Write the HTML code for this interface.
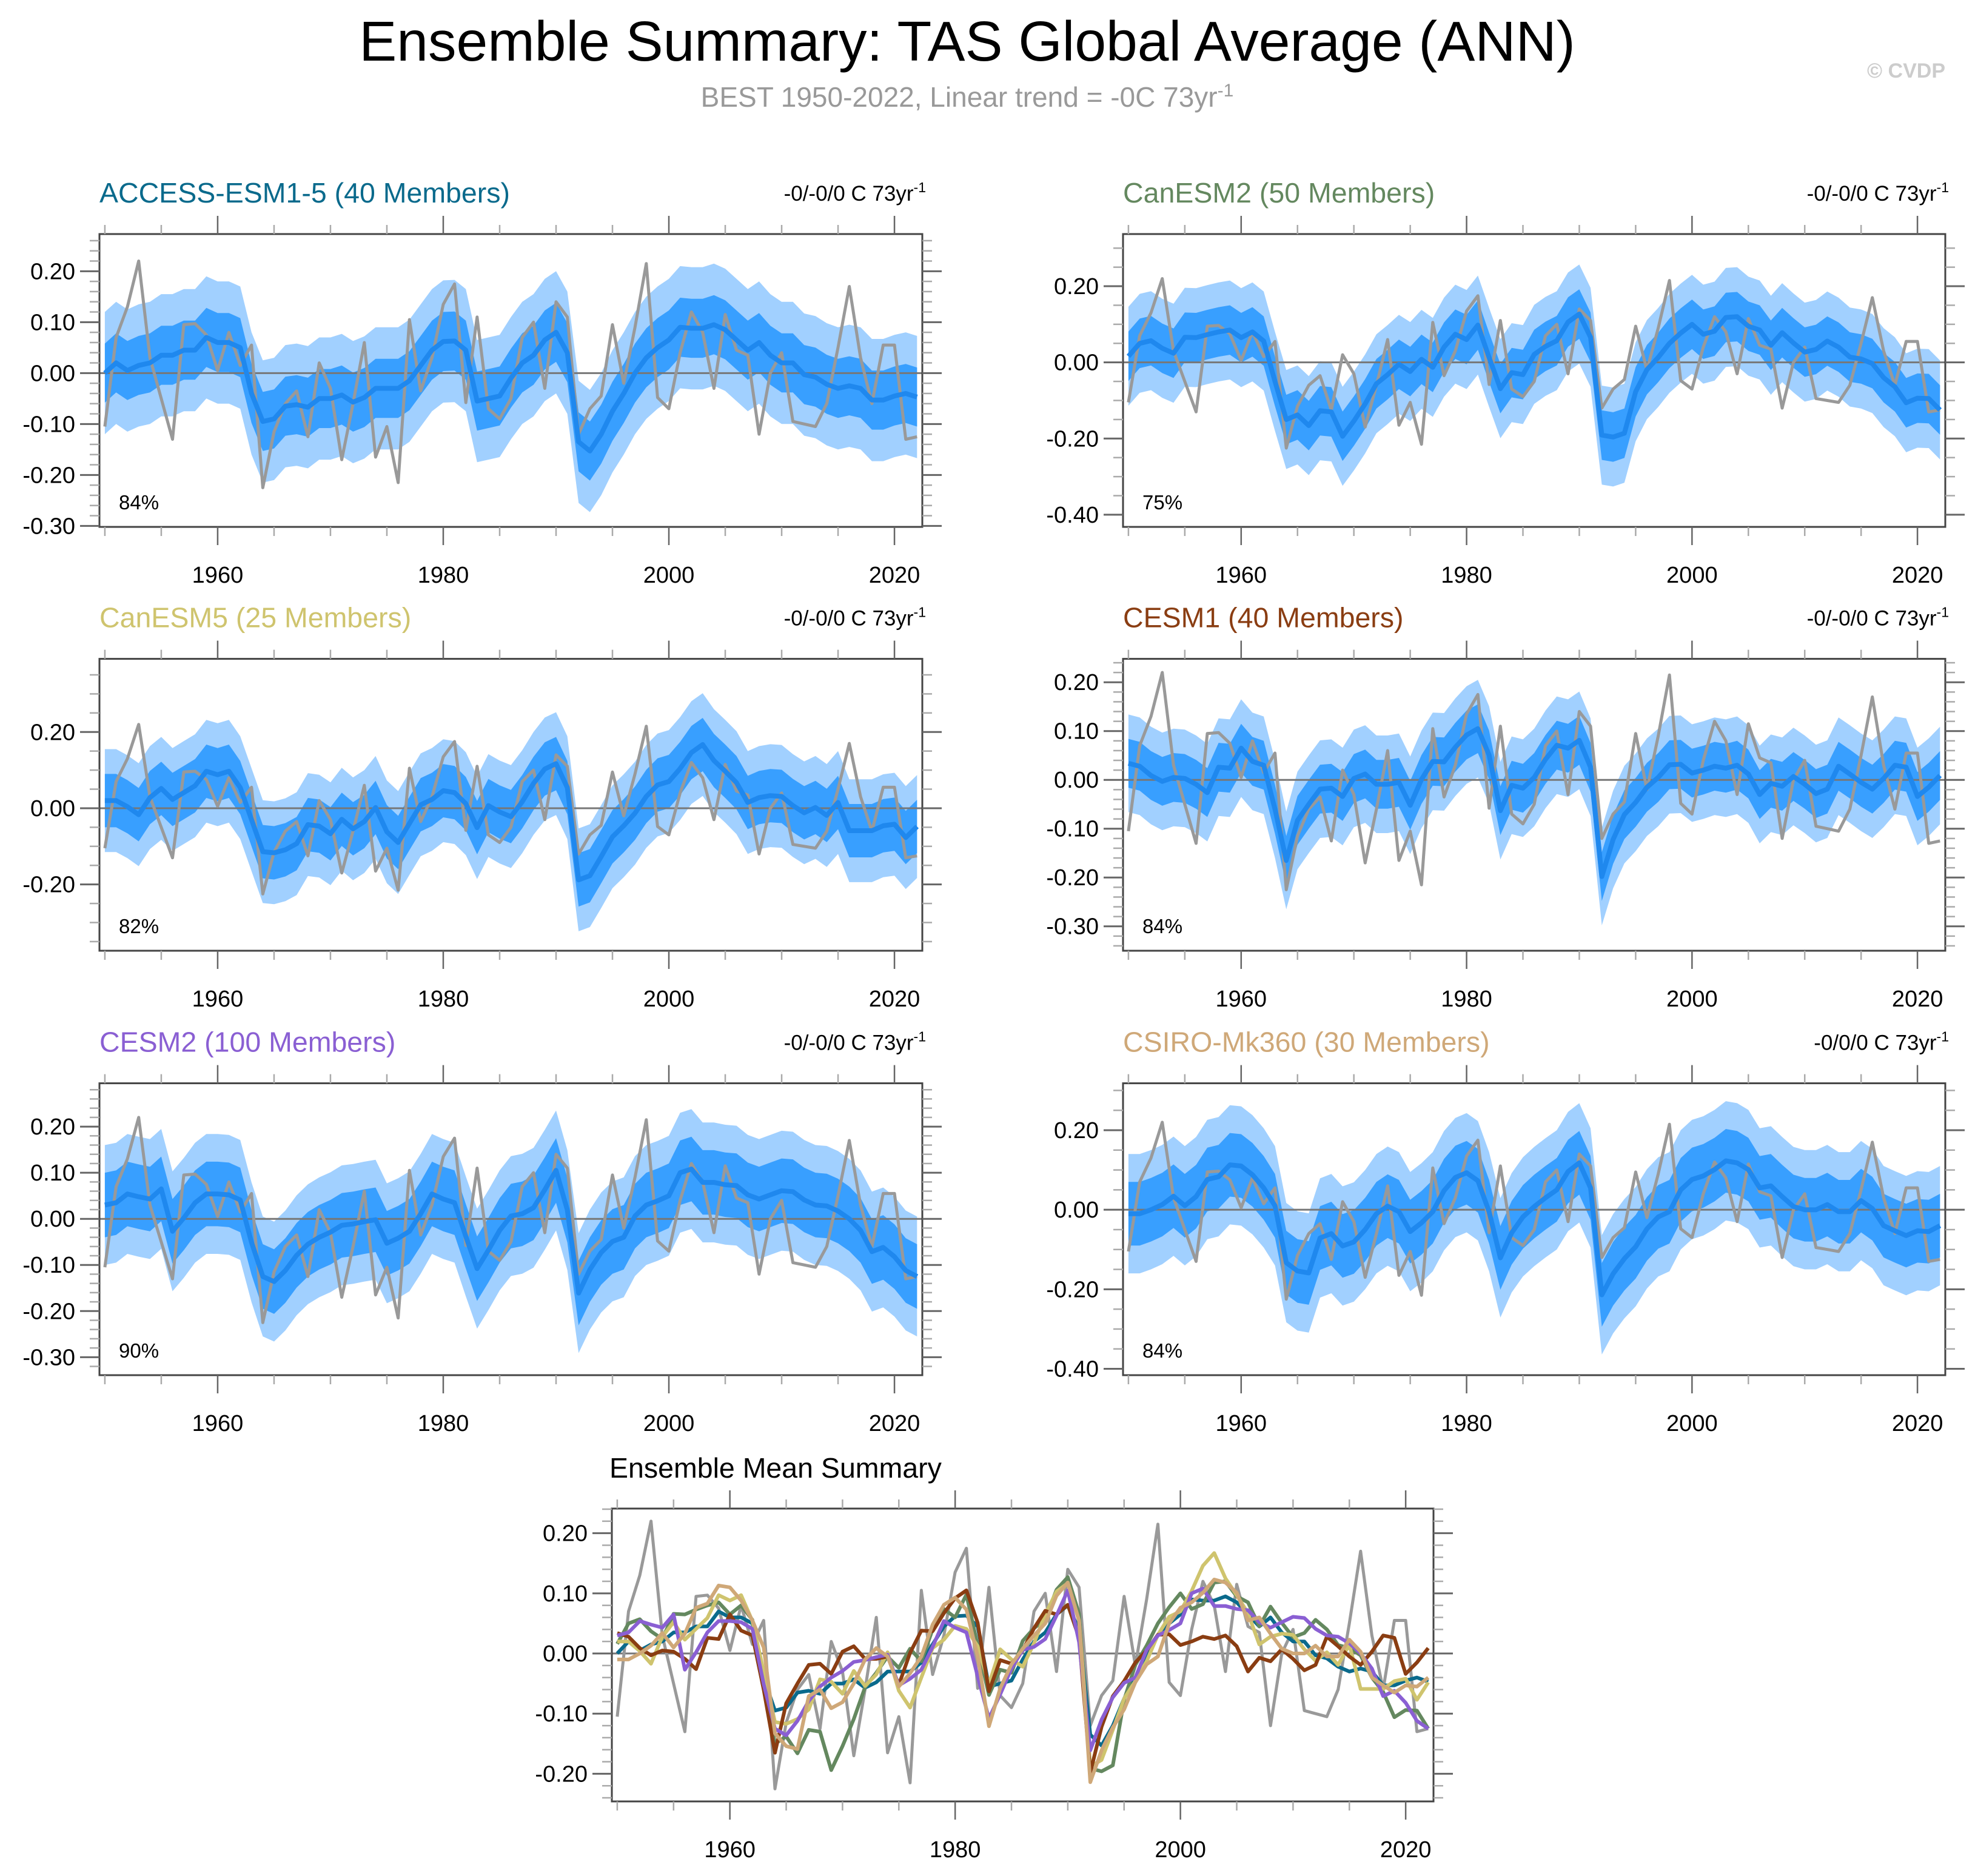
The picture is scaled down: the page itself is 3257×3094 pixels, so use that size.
<!DOCTYPE html>
<html><head><meta charset="utf-8"><title>Ensemble Summary</title>
<style>
html,body{margin:0;padding:0;background:#fff;}
svg{display:block;font-family:"Liberation Sans",Arial,sans-serif;}
</style></head>
<body>
<svg id="chart" xmlns="http://www.w3.org/2000/svg" width="3257" height="3094" viewBox="0 0 3257 3094">
<rect x="0" y="0" width="3257" height="3094" fill="#fff"/>
<text x="1595" y="100" font-size="93" text-anchor="middle" fill="#000">Ensemble Summary: TAS Global Average (ANN)</text>
<text x="1595" y="176" font-size="46" text-anchor="middle" fill="#999">BEST 1950-2022, Linear trend = -0C 73yr<tspan dy="-17" font-size="30">-1</tspan></text>
<text x="3208" y="128" font-size="34" font-weight="bold" text-anchor="end" fill="#ccc">© CVDP</text>
<g id="plots"></g>
</svg>
<script>
const years = [];
for (let y = 1950; y <= 2022; y++) years.push(y);

const obsBEST = [-0.105,0.07,0.13,0.22,0.03,-0.05,-0.13,0.095,0.097,0.075,0.005,0.08,0.015,0.055,-0.225,-0.115,-0.06,-0.035,-0.125,0.02,-0.03,-0.17,-0.06,0.06,-0.165,-0.105,-0.215,0.105,-0.035,0.03,0.135,0.175,-0.058,0.11,-0.07,-0.09,-0.05,0.07,0.1,-0.03,0.14,0.11,-0.12,-0.07,-0.045,0.095,-0.02,0.09,0.215,-0.048,-0.07,0.04,0.12,0.08,-0.03,0.115,0.045,0.035,-0.12,0.0,0.04,-0.095,-0.1,-0.105,-0.06,0.05,0.17,0.03,-0.06,0.055,0.055,-0.13,-0.125];

const meanACCESS = [0.0,0.02,0.005,0.015,0.02,0.035,0.035,0.045,0.045,0.07,0.06,0.06,0.05,-0.04,-0.095,-0.09,-0.065,-0.062,-0.067,-0.05,-0.05,-0.043,-0.057,-0.048,-0.03,-0.03,-0.03,-0.015,0.015,0.045,0.062,0.063,0.045,-0.055,-0.05,-0.045,-0.01,0.02,0.035,0.065,0.08,0.04,-0.135,-0.153,-0.12,-0.075,-0.04,0.0,0.03,0.05,0.065,0.09,0.088,0.088,0.095,0.085,0.065,0.045,0.06,0.035,0.02,0.02,-0.003,-0.008,-0.022,-0.03,-0.025,-0.03,-0.053,-0.053,-0.045,-0.04,-0.047];
const meanCanESM2 = [0.016,0.05,0.057,0.037,0.024,0.066,0.065,0.073,0.08,0.085,0.065,0.08,0.056,-0.05,-0.15,-0.138,-0.166,-0.127,-0.13,-0.194,-0.154,-0.109,-0.056,-0.032,-0.005,-0.024,0.008,-0.013,0.04,0.074,0.06,0.098,0.013,-0.069,-0.027,-0.032,0.021,0.042,0.057,0.106,0.127,0.066,-0.191,-0.196,-0.186,-0.077,-0.019,0.013,0.05,0.077,0.1,0.074,0.082,0.118,0.12,0.095,0.085,0.045,0.078,0.051,0.027,0.034,0.056,0.04,0.014,0.009,-0.003,-0.04,-0.064,-0.106,-0.094,-0.095,-0.125];
const meanCanESM5 = [0.02,0.02,0.004,-0.017,0.028,0.052,0.023,0.041,0.059,0.097,0.088,0.097,0.054,-0.03,-0.114,-0.117,-0.109,-0.093,-0.043,-0.047,-0.067,-0.029,-0.054,-0.035,0.002,-0.062,-0.09,-0.04,0.009,0.023,0.046,0.041,0.012,-0.051,0.007,-0.01,-0.022,0.017,0.065,0.103,0.117,0.054,-0.188,-0.177,-0.127,-0.075,-0.046,-0.013,0.031,0.061,0.07,0.104,0.146,0.167,0.125,0.097,0.067,0.015,0.028,0.033,0.031,0.007,-0.012,0.002,-0.019,0.015,-0.059,-0.059,-0.059,-0.046,-0.042,-0.077,-0.048];
const meanCESM1 = [0.034,0.028,0.009,-0.003,0.005,0.003,-0.009,-0.026,0.026,0.024,0.065,0.038,0.03,-0.06,-0.165,-0.083,-0.05,-0.019,-0.017,-0.034,0.003,0.012,-0.009,-0.009,-0.005,-0.052,0.001,0.038,0.037,0.067,0.092,0.105,0.051,-0.063,-0.011,-0.017,0.005,0.042,0.071,0.065,0.081,0.026,-0.198,-0.122,-0.071,-0.046,-0.015,0.005,0.031,0.032,0.014,0.02,0.028,0.024,0.03,0.012,-0.03,-0.007,-0.013,0.007,-0.009,-0.028,-0.019,0.028,0.012,-0.005,-0.019,0.003,0.03,0.026,-0.034,-0.015,0.009];
const meanCESM2 = [0.03,0.035,0.054,0.048,0.043,0.065,-0.027,0.002,0.035,0.054,0.054,0.052,0.041,-0.051,-0.125,-0.136,-0.112,-0.079,-0.055,-0.04,-0.029,-0.014,-0.011,-0.006,-0.002,-0.053,-0.042,-0.027,0.011,0.054,0.043,0.035,-0.038,-0.108,-0.068,-0.025,0.006,0.011,0.024,0.063,0.105,0.019,-0.161,-0.11,-0.073,-0.049,-0.04,0.006,0.03,0.039,0.05,0.1,0.108,0.079,0.079,0.074,0.072,0.052,0.043,0.052,0.061,0.059,0.041,0.03,0.028,0.017,0.0,-0.025,-0.071,-0.062,-0.082,-0.112,-0.125];
const meanCSIRO = [-0.01,-0.01,0.0,0.013,0.034,0.01,0.033,0.076,0.083,0.113,0.11,0.088,0.055,0.01,-0.133,-0.154,-0.159,-0.071,-0.06,-0.091,-0.081,-0.05,-0.01,0.009,-0.005,-0.055,-0.033,-0.005,0.048,0.081,0.093,0.073,-0.005,-0.121,-0.058,-0.018,0.008,0.03,0.05,0.096,0.118,0.055,-0.214,-0.161,-0.123,-0.093,-0.048,-0.018,-0.005,0.05,0.076,0.085,0.101,0.123,0.118,0.101,0.055,0.06,0.033,0.008,0.0,0.0,0.013,-0.005,-0.005,0.023,0.003,-0.04,-0.053,-0.065,-0.053,-0.055,-0.04];

// half-widths of the inner (dark) and outer (light) ensemble spread bands per model
const innerSpread = [0.058, 0.065, 0.07, 0.05, 0.07, 0.08];
const outerSpread = [0.12, 0.13, 0.135, 0.1, 0.13, 0.15];

const modelNames = ["ACCESS-ESM1-5 (40 Members)","CanESM2 (50 Members)","CanESM5 (25 Members)","CESM1 (40 Members)","CESM2 (100 Members)","CSIRO-Mk360 (30 Members)"];
const pctLabels = ["84%","75%","82%","84%","90%","84%"];
const trendLabels = ["-0/-0/0 C 73yr","-0/-0/0 C 73yr","-0/-0/0 C 73yr","-0/-0/0 C 73yr","-0/-0/0 C 73yr","-0/0/0 C 73yr"];
const yMajorTicks = [[0.2,0.1,0,-0.1,-0.2,-0.3],[0.2,0,-0.2,-0.4],[0.2,0,-0.2],[0.2,0.1,0,-0.1,-0.2,-0.3],[0.2,0.1,0,-0.1,-0.2,-0.3],[0.2,0,-0.2,-0.4]];
const yMinorStep = [0.02,0.05,0.05,0.02,0.02,0.05];
const yRanges = [[-0.302,0.273],[-0.432,0.337],[-0.374,0.392],[-0.35,0.248],[-0.339,0.294],[-0.416,0.318]];
const xTickLabels = [1960,1980,2000,2020];

const modelMeans = [meanACCESS, meanCanESM2, meanCanESM5, meanCESM1, meanCESM2, meanCSIRO];
const modelColors = ["#0a6a8c","#64885f","#cfc46e","#8a3d12","#8a5fd3","#cfa878"];
const slugs = ["access-esm1-5","canesm2","canesm5","cesm1","cesm2","csiro-mk360"];

const NS = "http://www.w3.org/2000/svg";
const root = document.getElementById("plots");
function mk(tag, attrs, parent) {
  const e = document.createElementNS(NS, tag);
  for (const k in attrs) e.setAttribute(k, attrs[k]);
  (parent || root).appendChild(e);
  return e;
}
const XMIN = 1949.52, XMAX = 2022.47;

function drawAxes(g, fr, ymin, ymax, majors, minorStep, sx, sy) {
  const start = Math.ceil(ymin / minorStep - 1e-6);
  for (let k = start; k * minorStep <= ymax + 1e-9; k++) {
    const v = k * minorStep;
    const py = sy(v);
    const t1 = mk("line", {x1: fr.x0 - 16, x2: fr.x0, y1: py, y2: py, stroke: "#aaa", "stroke-width": 2.5}, g);
    
    
    const t2 = mk("line", {x1: fr.x1, x2: fr.x1 + 16, y1: py, y2: py, stroke: "#aaa", "stroke-width": 2.5}, g);
    
    
  }
  majors.forEach(v => {
    const py = sy(v);
    const a = mk("line", {x1: fr.x0 - 32, x2: fr.x0, y1: py, y2: py, stroke: "#666", "stroke-width": 3}, g);
    
    
    const b = mk("line", {x1: fr.x1, x2: fr.x1 + 32, y1: py, y2: py, stroke: "#666", "stroke-width": 3}, g);
    
    
    const t = mk("text", {x: fr.x0 - 40, y: py + 13, "font-size": 38, "text-anchor": "end", fill: "#000"}, g);
    
    
    t.textContent = v.toFixed(2);
  });
  for (let yr = 1950; yr <= 2020; yr += 5) {
    const px = sx(yr);
    const major = yr % 20 === 0;
    const len = major ? 30 : 15;
    const a = mk("line", {x1: px, x2: px, y1: fr.y0 - len, y2: fr.y0, stroke: major ? "#666" : "#aaa", "stroke-width": 2.5}, g);
    
    
    const b = mk("line", {x1: px, x2: px, y1: fr.y1, y2: fr.y1 + len, stroke: major ? "#666" : "#aaa", "stroke-width": 2.5}, g);
    
    
  }
  xTickLabels.forEach(yr => {
    const t = mk("text", {x: sx(yr), y: fr.y1 + 92, "font-size": 38, "text-anchor": "middle", fill: "#000"}, g);
    
    
    t.textContent = yr;
  });
}
function linePath(vals, sx, sy) {
  return vals.map((v, i) => (i ? "L" : "M") + sx(years[i]).toFixed(1) + "," + sy(v).toFixed(1)).join("");
}
function bandPath(vals, hw, sx, sy) {
  let d = vals.map((v, i) => (i ? "L" : "M") + sx(years[i]).toFixed(1) + "," + sy(v + hw).toFixed(1)).join("");
  for (let i = vals.length - 1; i >= 0; i--) d += "L" + sx(years[i]).toFixed(1) + "," + sy(vals[i] - hw).toFixed(1);
  return d + "Z";
}

const colX = [[164, 1521], [1852, 3208]];
const rowY = [[386, 869], [1086.6, 1568], [1786.6, 2268]];

for (let p = 0; p < 6; p++) {
  const c = p % 2, r = Math.floor(p / 2);
  const fr = {x0: colX[c][0], x1: colX[c][1], y0: rowY[r][0], y1: rowY[r][1]};
  const [ymin, ymax] = yRanges[p];
  const sx = yr => fr.x0 + (yr - XMIN) / (XMAX - XMIN) * (fr.x1 - fr.x0);
  const sy = v => fr.y1 - (v - ymin) / (ymax - ymin) * (fr.y1 - fr.y0);
  const g = mk("g", {});
  
  
  const clipId = "clip" + p;
  const cp = mk("clipPath", {id: clipId}, g);
  mk("rect", {x: fr.x0, y: fr.y0, width: fr.x1 - fr.x0, height: fr.y1 - fr.y0}, cp);
  const inner = mk("g", {"clip-path": "url(#" + clipId + ")"}, g);
  const lb = mk("path", {d: bandPath(modelMeans[p], outerSpread[p], sx, sy), fill: "#a1d0ff"}, inner);
  
  
  const db = mk("path", {d: bandPath(modelMeans[p], innerSpread[p], sx, sy), fill: "#389fff"}, inner);
  
  
  const z = mk("line", {x1: fr.x0, x2: fr.x1, y1: sy(0), y2: sy(0), stroke: "#777", "stroke-width": 3}, inner);
  
  
  const ob = mk("path", {d: linePath(obsBEST, sx, sy), fill: "none", stroke: "#999", "stroke-width": 5, "stroke-linejoin": "round"}, inner);
  
  
  const ml = mk("path", {d: linePath(modelMeans[p], sx, sy), fill: "none", stroke: "#1f88ee", "stroke-width": 8, "stroke-linejoin": "round"}, inner);
  
  
  const fb = mk("rect", {x: fr.x0, y: fr.y0, width: fr.x1 - fr.x0, height: fr.y1 - fr.y0, fill: "none", stroke: "#444", "stroke-width": 3}, g);
  
  
  drawAxes(g, fr, ymin, ymax, yMajorTicks[p], yMinorStep[p], sx, sy);
  const tt = mk("text", {x: fr.x0, y: fr.y0 - 52, "font-size": 46.5, fill: modelColors[p]}, g);
  
  
  tt.textContent = modelNames[p];
  const tr = mk("text", {x: fr.x1 + 6, y: fr.y0 - 55, "font-size": 35, "text-anchor": "end", fill: "#000"}, g);
  
  
  tr.textContent = trendLabels[p];
  const sup = mk("tspan", {dy: -14, "font-size": 23}, tr);
  sup.textContent = "-1";
  const pc = mk("text", {x: fr.x0 + 32, y: fr.y1 - 29, "font-size": 33, fill: "#000"}, g);
  
  
  pc.textContent = pctLabels[p];
}

(function () {
  const fr = {x0: 1009, x1: 2364, y0: 2488, y1: 2971};
  const ymin = -0.246, ymax = 0.241;
  const sx = yr => fr.x0 + (yr - XMIN) / (XMAX - XMIN) * (fr.x1 - fr.x0);
  const sy = v => fr.y1 - (v - ymin) / (ymax - ymin) * (fr.y1 - fr.y0);
  const g = mk("g", {});
  
  
  const cp = mk("clipPath", {id: "clipS"}, g);
  mk("rect", {x: fr.x0, y: fr.y0, width: fr.x1 - fr.x0, height: fr.y1 - fr.y0}, cp);
  const inner = mk("g", {"clip-path": "url(#clipS)"}, g);
  const z = mk("line", {x1: fr.x0, x2: fr.x1, y1: sy(0), y2: sy(0), stroke: "#777", "stroke-width": 3}, inner);
  
  
  const ob = mk("path", {d: linePath(obsBEST, sx, sy), fill: "none", stroke: "#999", "stroke-width": 5, "stroke-linejoin": "round"}, inner);
  
  
  for (let p = 0; p < 6; p++) {
    const l = mk("path", {d: linePath(modelMeans[p], sx, sy), fill: "none", stroke: modelColors[p], "stroke-width": 6, "stroke-linejoin": "round"}, inner);
    
    
  }
  const fb = mk("rect", {x: fr.x0, y: fr.y0, width: fr.x1 - fr.x0, height: fr.y1 - fr.y0, fill: "none", stroke: "#444", "stroke-width": 3}, g);
  
  
  drawAxes(g, fr, ymin, ymax, [0.2, 0.1, 0, -0.1, -0.2], 0.02, sx, sy);
  const tt = mk("text", {x: 1005, y: 2437, "font-size": 46.5, fill: "#000"}, g);
  
  
  tt.textContent = "Ensemble Mean Summary";
})();
</script>
</body></html>
